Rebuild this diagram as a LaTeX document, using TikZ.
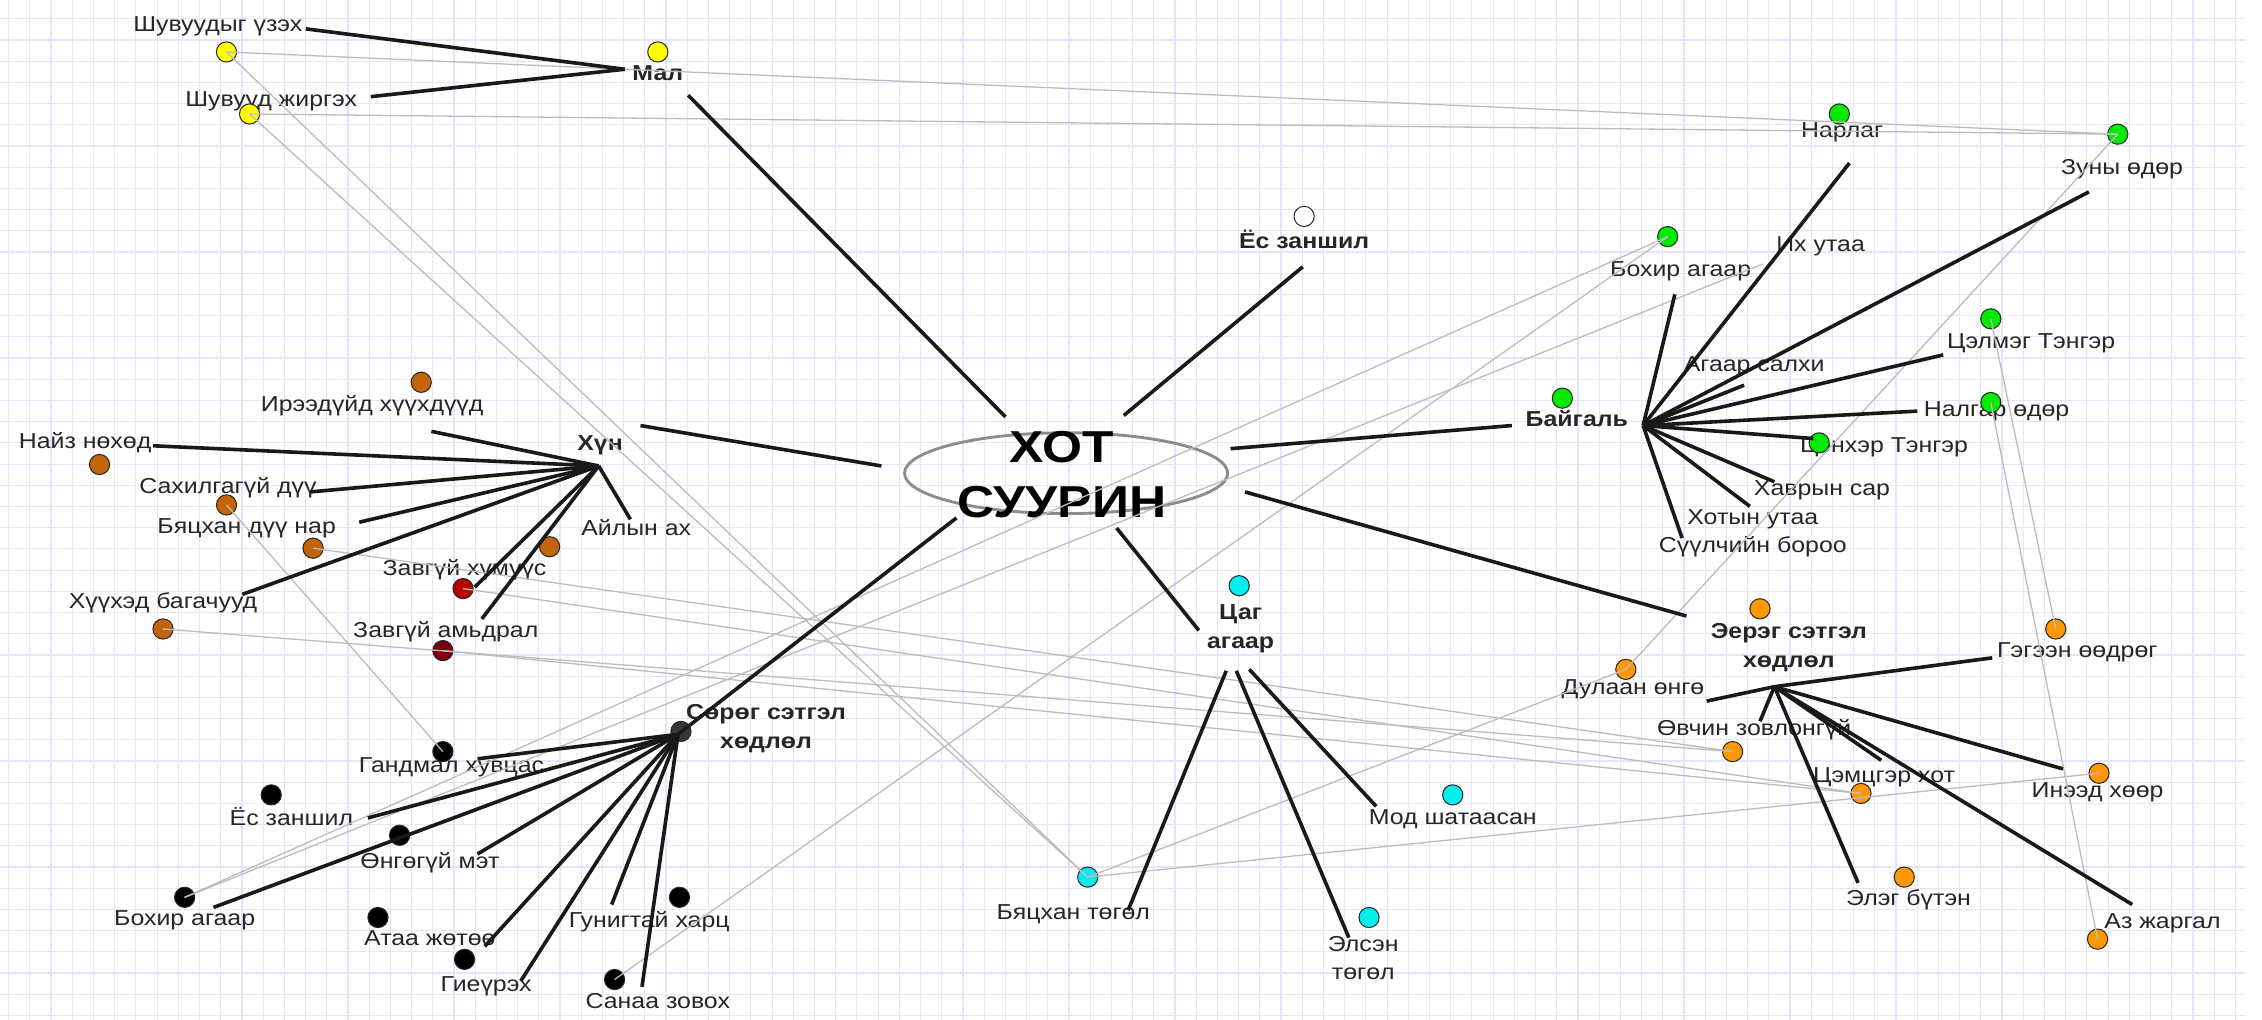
\documentclass[tikz,border=0pt]{standalone}
\usepackage{fontspec}
\setmainfont{Liberation Sans}[FakeStretch=1.15]
\usetikzlibrary{shapes.geometric}
\definecolor{gridc}{RGB}{228,228,250}
\definecolor{relc}{RGB}{188,188,188}
\definecolor{yel}{RGB}{255,255,0}
\definecolor{brn}{RGB}{196,100,10}
\definecolor{grn}{RGB}{0,235,0}
\definecolor{cyn}{RGB}{0,240,240}
\definecolor{org}{RGB}{255,152,0}
\definecolor{redd}{RGB}{185,0,0}
\definecolor{maroon}{RGB}{120,0,15}
\definecolor{sorogc}{RGB}{55,55,55}
\tikzset{
  dot/.style={circle, draw=black!85, line width=0.7pt, minimum size=14pt, inner sep=0pt},
  lbl/.style={font=\fontsize{15}{19}\selectfont, text=black!85, inner sep=0pt, align=center},
  hd/.style={lbl, font=\fontsize{15}{20}\selectfont\bfseries},
  link/.style={line width=2.5pt, black!90},
  rel/.style={line width=0.9pt, relc},
}
\begin{document}
\begin{tikzpicture}[x=1pt,y=-1pt]
\useasboundingbox (0,0) rectangle (1568,707);
% grid paper
\fill[white] (0,0) rectangle (1568,707);
\foreach \gx in {6,20.7,...,1556} \draw[gridc, line width=0.8pt] (\gx,0) -- (\gx,707);
\foreach \gy in {13,27.7,...,707} \draw[gridc, line width=0.8pt] (0,\gy) -- (1556,\gy);

% centre
\node[ellipse, draw=black!45, line width=2pt, minimum width=224pt, minimum height=56pt] (city) at (739,328) {};
\node[font=\fontsize{31}{38}\selectfont\bfseries, align=center, inner sep=0pt] (cityText) at (736,329) {ХОТ\\СУУРИН};

% labels
\node[lbl] (lShuvuudyg) at (151,18) {Шувуудыг үзэх};
\node[lbl] (lShuvuud) at (188,70) {Шувууд жиргэх};
\node[hd] (lMal) at (456,51) {Мал};
\node[hd] (lYos) at (904,166) {Ёс заншил};
\node[hd] (lKhun) at (416,309) {Хүн};
\node[lbl] (lIreedui) at (258,281) {Ирээдүйд хүүхдүүд};
\node[lbl] (lNaiz) at (59,307) {Найз нөхөд};
\node[lbl] (lSakhil) at (158,338) {Сахилгагүй дүү};
\node[lbl] (lByatsDuu) at (171,366) {Бяцхан дүү нар};
\node[lbl] (lKhuukhed) at (113,418) {Хүүхэд багачууд};
\node[lbl] (lAil) at (441,366) {Айлын ах};
\node[lbl] (lZavKhum) at (322,395) {Завгүй хүмүүс};
\node[lbl] (lZavAm) at (309,438) {Завгүй амьдрал};
\node[hd] (lSorog) at (531,505) {Сөрөг сэтгэл\\хөдлөл};
\node[lbl] (lGandmal) at (313,532) {Гандмал хувцас};
\node[lbl] (lYos2) at (202,566) {Ёс заншил};
\node[lbl] (lOngo) at (298,598) {Өнгөгүй мэт};
\node[lbl] (lBokhir) at (128,638) {Бохир агаар};
\node[lbl] (lAtaa) at (298,650) {Атаа жөтөө};
\node[lbl] (lGieur) at (337,684) {Гиеүрэх};
\node[lbl] (lGunig) at (450,639) {Гунигтай харц};
\node[lbl] (lSanaa) at (456,694) {Санаа зовох};
\node[hd] (lTsag) at (860,436) {Цаг\\агаар};
\node[lbl] (lByatsTog) at (744,634) {Бяцхан төгөл};
\node[lbl] (lElsen) at (945,664) {Элсэн\\төгөл};
\node[lbl] (lMod) at (1007,568) {Мод шатаасан};
\node[hd] (lBaigal) at (1093,290) {Байгаль};
\node[lbl] (lBokhir2) at (1165,188) {Бохир агаар};
\node[lbl] (lIkh) at (1262,171) {Их утаа};
\node[lbl] (lNarlag) at (1277,92) {Нарлаг};
\node[lbl] (lZuny) at (1471,117) {Зуны өдөр};
\node[lbl] (lTselmeg) at (1408,238) {Цэлмэг Тэнгэр};
\node[lbl] (lAgaar) at (1216,254) {Агаар салхи};
\node[lbl] (lNalgar) at (1384,285) {Налгар өдөр};
\node[lbl] (lTsenkher) at (1306,310) {Цэнхэр Тэнгэр};
\node[lbl] (lKhavr) at (1263,340) {Хаврын сар};
\node[lbl] (lKhotyn) at (1215,360) {Хотын утаа};
\node[lbl] (lSuulch) at (1215,379) {Сүүлчийн бороо};
\node[hd] (lEereg) at (1240,449) {Эерэг сэтгэл\\хөдлөл};
\node[lbl] (lGegeen) at (1440,452) {Гэгээн өөдрөг};
\node[lbl] (lDulaan) at (1132,478) {Дулаан өнгө};
\node[lbl] (lOvchin) at (1216,506) {Өвчин зовлонгүй};
\node[lbl] (lTsemts) at (1306,539) {Цэмцгэр хот};
\node[lbl] (lIneed) at (1454,549) {Инээд хөөр};
\node[lbl] (lEleg) at (1323,624) {Элэг бүтэн};
\node[lbl] (lAz) at (1499,640) {Аз жаргал};

% dots
\foreach \n/\x/\y/\c in {
  dY1/157/36/yel, dMal/456/36/yel, dY2/173/79/yel, dYos/904/150/white,
  dIreedui/292/265/brn, dNaiz/69/322/brn, dSakhil/157/350/brn, dByatsDuu/217/380/brn,
  dKhuukhed/113/436/brn, dAil/381/379/brn, dZavKhum/321/408/redd, dZavAm/307/451/maroon,
  dSorog/472/507/sorogc, dGandmal/307/521/black, dYos2/188/551/black, dOngo/277/579/black,
  dBokhir/128/622/black, dAtaa/262/636/black, dGieur/322/665/black, dGunig/471/622/black,
  dSanaa/426/679/black,
  dTsag/859/406/cyn, dByatsTog/754/608/cyn, dElsen/949/636/cyn, dMod/1007/551/cyn,
  dBaigal/1083/276/grn, dBokhir2/1156/164/grn, dNarlag/1275/79/grn, dZuny/1468/93/grn,
  dTselmeg/1380/221/grn, dNalgar/1380/279/grn, dTsenkher/1261/307/grn,
  dEereg/1220/422/org, dGegeen/1425/436/org, dDulaan/1127/464/org, dOvchin/1201/521/org,
  dTsemts/1290/550/org, dIneed/1455/536/org, dEleg/1320/608/org, dAz/1454/651/org}
  \node[dot, fill=\c] (\n) at (\x,\y) {};
\coordinate (cIkh) at (1222,183);

% grey relations
\foreach \a/\b in {dY1/dZuny, dY2/dZuny, dY1/dByatsTog, dY2/dByatsTog, dSakhil/dGandmal,
  dByatsDuu/dOvchin, dZavKhum/dTsemts, dKhuukhed/dOvchin, dZavAm/dTsemts,
  dBokhir/dBokhir2, dBokhir/cIkh, dSanaa/dBokhir2, dByatsTog/dIneed, dByatsTog/dDulaan,
  dDulaan/dZuny, dTselmeg/dGegeen, dNalgar/dAz}
  \draw[rel] (\a.center) -- (\b.center);

% hubs and line ends
\foreach \n/\x/\y in {
  hMal/433/48, hKhun/415/323, hSorog/470/509, hBaigal/1139/295, hEereg/1230/476,
  hTsagA/850/465, hTsagB/857/465, hTsagC/866/464,
  cMal/697/289, cYos/779/288, cKhun/611/323, cBaigal/853/311, cEereg/863/341, cTsag/774/366, cSorog/663/359,
  eMal/477/66, eYos/903/185, eKhun/444/295, eBaigal/1048/295, eEereg/1169/427, eTsag/831/437,
  eShuvuudyg/212/20, eShuvuud/257/67,
  eIreedui/299/299, eNaiz/106/309, eSakhil/215/341, eByatsDuu/249/362, eKhuukhed/168/412,
  eAil/437/360, eZavKhum/329/407, eZavAm/334/429,
  eGandmal/331/526, eYos2/255/567, eBokhir/148/629, eOngo/331/592, eAtaa/336/656,
  eGieur/361/680, eGunig/424/627, eSanaa/445/684,
  eByatsTog/782/631, eElsen/935/650, eMod/954/559,
  eBokhir2/1161/204, eNarlag/1282/113, eZuny/1448/133, eAgaar/1209/267, eTselmeg/1347/246,
  eNalgar/1329/285, eTsenkher/1257/304, eKhavr/1230/334, eKhotyn/1213/351, eSuulch/1166/373,
  eGegeen/1381/456, eDulaan/1183/486, eOvchin/1220/500, eTsemts/1304/527, eIneed/1430/533,
  eEleg/1288/612, eAz/1478/627}
  \coordinate (\n) at (\x,\y);

% black links
\foreach \a/\b in {cMal/eMal, cYos/eYos, cKhun/eKhun, cBaigal/eBaigal, cEereg/eEereg,
  cTsag/eTsag, cSorog/hSorog,
  hMal/eShuvuudyg, hMal/eShuvuud,
  hKhun/eIreedui, hKhun/eNaiz, hKhun/eSakhil, hKhun/eByatsDuu, hKhun/eKhuukhed,
  hKhun/eAil, hKhun/eZavKhum, hKhun/eZavAm,
  hSorog/eGandmal, hSorog/eYos2, hSorog/eBokhir, hSorog/eOngo, hSorog/eAtaa,
  hSorog/eGieur, hSorog/eGunig, hSorog/eSanaa,
  hTsagA/eByatsTog, hTsagB/eElsen, hTsagC/eMod,
  hBaigal/eBokhir2, hBaigal/eNarlag, hBaigal/eZuny, hBaigal/eAgaar, hBaigal/eTselmeg,
  hBaigal/eNalgar, hBaigal/eTsenkher, hBaigal/eKhavr, hBaigal/eKhotyn, hBaigal/eSuulch,
  hEereg/eGegeen, hEereg/eDulaan, hEereg/eOvchin, hEereg/eTsemts, hEereg/eIneed,
  hEereg/eEleg, hEereg/eAz}
  \draw[link] (\a) -- (\b);
\end{tikzpicture}
\end{document}
